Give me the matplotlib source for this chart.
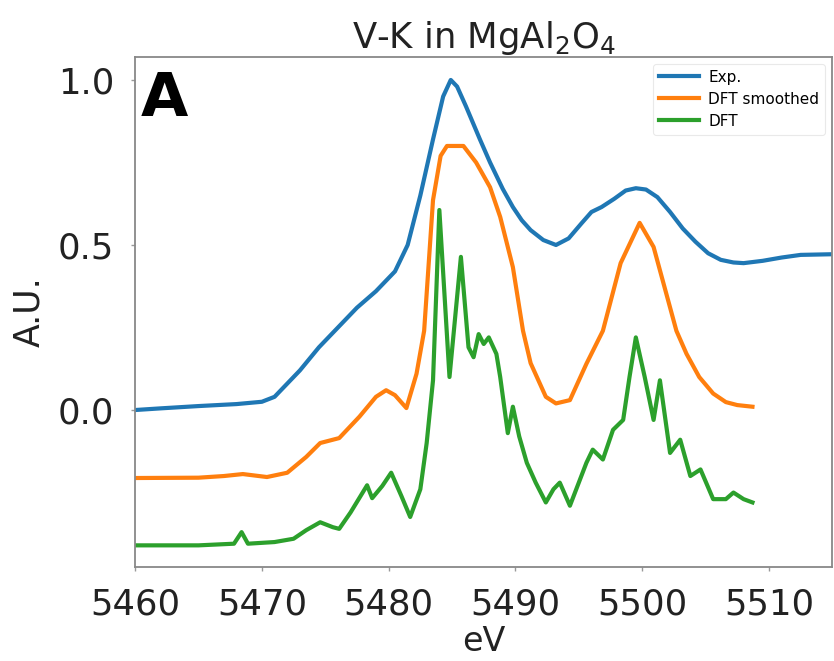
import matplotlib
matplotlib.use('Agg')
import matplotlib.pyplot as plt

# values
exp_x = [5460, 5462, 5465, 5468, 5470, 5471, 5472, 5473, 5474.5, 5476, 5477.5, 5479,
         5480.5, 5481.5, 5482.5, 5483.5, 5484.3, 5484.9, 5485.4, 5486.1, 5487.2, 5488,
         5489, 5489.8, 5490.5, 5491.2, 5492.2, 5493.2, 5494.2, 5495.2, 5496.0, 5496.8,
         5497.8, 5498.7, 5499.5, 5500.3, 5501.2, 5502.2, 5503.2, 5504.2, 5505.2, 5506.2,
         5507.2, 5508, 5509.5, 5511, 5512.5, 5515]
exp_y = [0.0, 0.005, 0.012, 0.018, 0.025, 0.04, 0.08, 0.12, 0.19, 0.25, 0.31, 0.36,
         0.42, 0.5, 0.65, 0.82, 0.95, 1.0, 0.98, 0.92, 0.82, 0.75,
         0.67, 0.615, 0.575, 0.545, 0.515, 0.50, 0.52, 0.565, 0.60, 0.615,
         0.64, 0.665, 0.672, 0.668, 0.645, 0.60, 0.55, 0.51, 0.475, 0.455,
         0.447, 0.445, 0.452, 0.462, 0.47, 0.472]

smooth_x = [5460, 5465, 5467, 5468.5, 5470.4, 5472, 5473.5, 5474.6, 5476.1, 5477.7,
            5479, 5479.8, 5480.5, 5481.4, 5482.2, 5482.8, 5483.5, 5484.1, 5484.6,
            5485.9, 5486.9, 5488.0, 5488.8, 5489.8, 5490.6, 5491.2, 5492.4, 5493.2,
            5494.3, 5495.6, 5496.9, 5498.3, 5499.8, 5500.9, 5502.7, 5503.5, 5504.5,
            5505.6, 5506.6, 5507.5, 5508.7]
smooth_y = [-0.206, -0.205, -0.2, -0.194, -0.203, -0.19, -0.142, -0.1, -0.085, -0.02,
            0.04, 0.06, 0.045, 0.006, 0.11, 0.24, 0.636, 0.77, 0.80,
            0.80, 0.75, 0.675, 0.585, 0.433, 0.24, 0.142, 0.04, 0.02,
            0.03, 0.14, 0.24, 0.445, 0.567, 0.494, 0.24, 0.17, 0.10,
            0.05, 0.024, 0.015, 0.01]

dft_x = [5460, 5465, 5467.8, 5468.4, 5468.9, 5471, 5472.5, 5473.5, 5474.6, 5475.6,
         5476.1, 5477, 5478.3, 5478.7, 5479.5, 5480.2, 5481, 5481.7, 5482.5, 5483.0,
         5483.5, 5484.0, 5484.8, 5485.7, 5486.3, 5486.7, 5487.1, 5487.5, 5487.9,
         5488.5, 5488.8, 5489.4, 5489.8, 5490.3, 5490.9, 5491.6, 5492.4, 5493.0,
         5493.5, 5494.3, 5495.0, 5495.6, 5496.1, 5496.9, 5497.7, 5498.5, 5499.0,
         5499.5, 5500.2, 5500.9, 5501.4, 5502.2, 5503.0, 5503.8, 5504.6, 5505.6,
         5506.6, 5507.2, 5508.0, 5508.7]
dft_y = [-0.41, -0.41, -0.405, -0.37, -0.405, -0.40, -0.39, -0.364, -0.34, -0.355,
         -0.36, -0.31, -0.228, -0.267, -0.23, -0.19, -0.26, -0.324, -0.24, -0.1,
         0.09, 0.606, 0.10, 0.464, 0.19, 0.16, 0.23, 0.20, 0.22,
         0.17, 0.10, -0.07, 0.01, -0.08, -0.16, -0.22, -0.28, -0.24,
         -0.22, -0.29, -0.22, -0.16, -0.12, -0.15, -0.06, -0.03, 0.10,
         0.22, 0.10, -0.03, 0.09, -0.13, -0.09, -0.2, -0.18, -0.27,
         -0.27, -0.25, -0.27, -0.28]

x_ticks = [5460, 5470, 5480, 5490, 5500, 5510]
y_ticks = [0.0, 0.5, 1.0]

fig = plt.figure(figsize=(8.34, 6.61), dpi=100)
ax = fig.add_axes([0.162, 0.142, 0.836, 0.772])

ax.plot(exp_x, exp_y, color='#1f77b4', lw=3, label='Exp.')
ax.plot(smooth_x, smooth_y, color='#ff7f0e', lw=3, label='DFT smoothed')
ax.plot(dft_x, dft_y, color='#2ca02c', lw=3, label='DFT')

ax.set_xlim(5460, 5515)
ax.set_ylim(-0.476, 1.07)
ax.set_xticks(x_ticks)
ax.set_yticks(y_ticks)
ax.set_yticklabels(['0.0', '0.5', '1.0'])
ax.tick_params(labelsize=25.5, length=3, width=1, color='#999999', pad=12,
               labelcolor='#222222')
for s in ax.spines.values():
    s.set_color('#888888')
    s.set_linewidth(1.3)

ax.set_title('V-K in MgAl$_2$O$_4$', fontsize=25.5, pad=6, color='#222222')
ax.set_xlabel('eV', fontsize=24, labelpad=2, color='#222222')
ax.set_ylabel('A.U.', fontsize=25, labelpad=8, color='#222222')

ax.text(0.008, 0.975, 'A', transform=ax.transAxes, fontsize=44,
        fontweight='heavy', va='top', ha='left', color='black')

leg = ax.legend(loc='upper right', fontsize=11, handlelength=2.6,
                handletextpad=0.6, labelspacing=0.45, borderaxespad=0.45,
                frameon=True)
leg.get_frame().set_edgecolor('#e4e4e4')
leg.get_frame().set_linewidth(0.8)

fig.savefig('out.png', dpi=100)
